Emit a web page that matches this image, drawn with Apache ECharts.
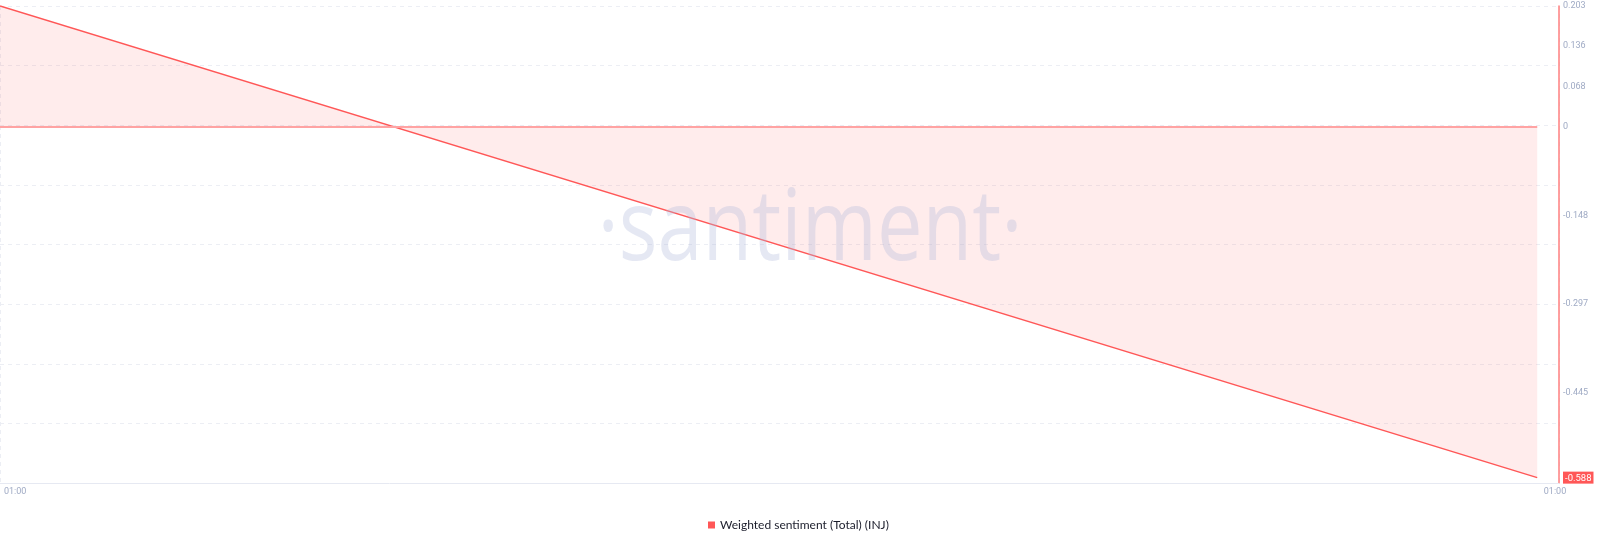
<!DOCTYPE html>
<html>
<head>
<meta charset="utf-8">
<script src="https://cdn.jsdelivr.net/npm/echarts@6/dist/echarts.min.js"></script>
<style>
  html, body { margin: 0; padding: 0; background: #ffffff; }
  #chart { width: 1600px; height: 542px; }
</style>
</head>
<body>
<div id="chart"></div>
<script>
// ---- data ----
var seriesName = 'Weighted sentiment (Total) (INJ)';
var xHours = [0, 24];                 // hours since first point (01:00 -> next day 01:00)
var sentiment = [0.203, -0.588];      // weighted sentiment values
var xAxisEndHour = 24.34;             // axis runs a little past the last point
var xTickLabels = ['01:00', '01:00'];
var yMin = -0.597;
var yMax = 0.203;
var yGridValues = [-0.597, -0.497, -0.397, -0.297, -0.197, -0.097, 0.003, 0.103, 0.203];
var yLabelValues = [0.203, 0.136, 0.068, 0, -0.148, -0.297, -0.445];
var lastValue = -0.588;

var chart = echarts.init(document.getElementById('chart'), null, { renderer: 'canvas' });

var points = xHours.map(function (h, i) { return [h, sentiment[i]]; });

var option = {
  animation: false,
  backgroundColor: '#ffffff',
  grid: { left: 0, right: 41, top: 6, bottom: 59, containLabel: false },
  legend: {
    data: [seriesName],
    left: 703,
    top: 514,
    itemWidth: 7,
    itemHeight: 7,
    itemGap: 10,
    icon: 'rect',
    textStyle: { fontFamily: 'Lato', fontSize: 12, color: '#1b1d2b' }
  },
  xAxis: {
    type: 'value',
    min: 0,
    max: xAxisEndHour,
    interval: xAxisEndHour,
    axisLine: { show: true, onZero: false, lineStyle: { color: '#e6e9f2', width: 1 } },
    axisTick: { show: false },
    splitLine: { show: true, lineStyle: { color: '#eceef4', type: [4, 4], width: 1 } },
    axisLabel: {
      show: true,
      showMinLabel: true,
      showMaxLabel: true,
      alignMinLabel: 'left',
      alignMaxLabel: 'center',
      margin: 4,
      padding: [0, 12, 0, 4],
      color: '#9faac4',
      fontFamily: 'Roboto',
      fontSize: 9,
      formatter: function (v) {
        return v < xAxisEndHour / 2 ? xTickLabels[0] : xTickLabels[1];
      }
    }
  },
  yAxis: {
    type: 'value',
    position: 'right',
    min: yMin,
    max: yMax,
    axisLine: { show: true, onZero: false, lineStyle: { color: '#ff7f7f', width: 1.5 } },
    axisTick: { show: false, customValues: yGridValues },
    splitLine: { show: true, lineStyle: { color: '#eceef4', type: [4, 4], width: 1 } },
    axisLabel: {
      show: true,
      showMinLabel: true,
      showMaxLabel: true,
      customValues: yLabelValues.concat([lastValue]),
      margin: 4,
      color: '#9faac4',
      fontFamily: 'Roboto',
      fontSize: 9,
      formatter: function (v) {
        if (Math.abs(v - lastValue) < 1e-6) return '{hl|' + lastValue + '}';
        return String(Math.round(v * 1000) / 1000);
      },
      rich: {
        hl: {
          backgroundColor: '#ff5757',
          color: '#ffffff',
          fontFamily: 'Roboto',
          fontSize: 9.5,
          padding: [2, 2, 0, 2]
        }
      }
    }
  },
  graphic: [{
    type: 'text',
    x: 810,
    y: 232,
    scaleX: 0.82,
    z: 100,
    silent: true,
    style: {
      text: '\u00B7santiment\u00B7',
      fontFamily: 'Open Sans',
      fontSize: 99,
      fontWeight: 400,
      fill: 'rgba(175,186,218,0.33)',
      align: 'center',
      verticalAlign: 'middle'
    }
  }],
  series: [{
    name: seriesName,
    type: 'line',
    data: points,
    symbol: 'none',
    clip: false,
    color: '#ff5757',
    lineStyle: { color: '#ff5757', width: 1.5 },
    areaStyle: { color: 'rgba(255,85,90,0.16)' },
    markLine: {
      silent: true,
      symbol: 'none',
      label: { show: false },
      lineStyle: { color: '#ffa3a3', width: 2, type: 'solid' },
      data: [[{ coord: [xHours[0], 0] }, { coord: [xHours[xHours.length - 1], 0] }]]
    }
  }]
};

chart.setOption(option);
</script>
</body>
</html>
